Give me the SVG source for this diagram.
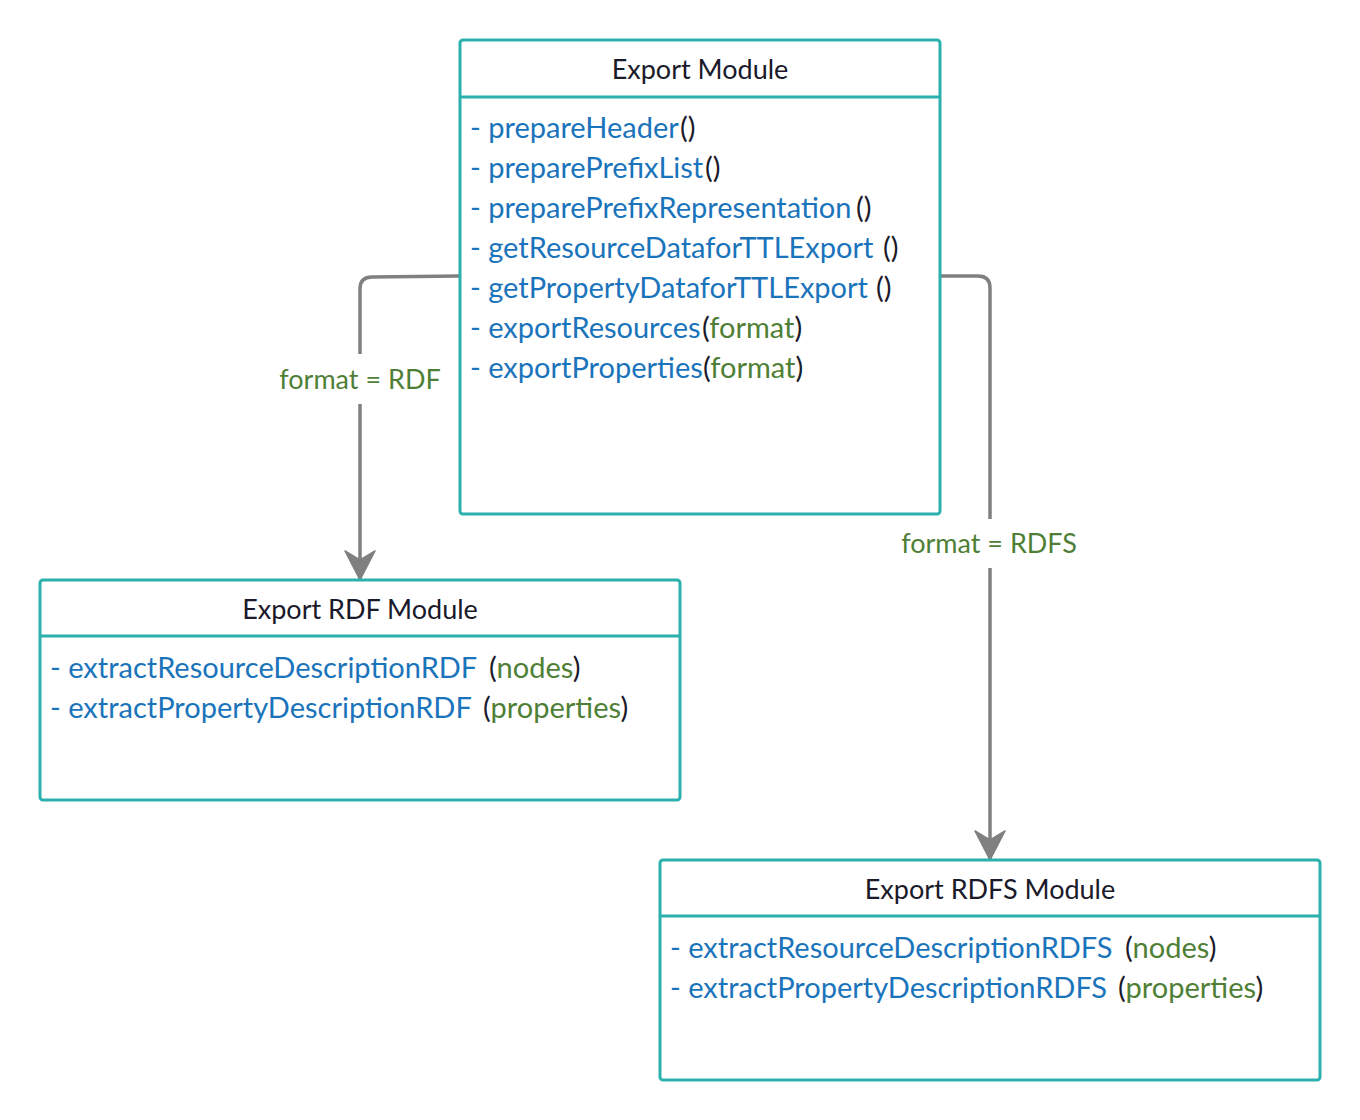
<svg xmlns="http://www.w3.org/2000/svg" width="1360" height="1120" viewBox="0 0 1360 1120">
<style>
.box{fill:#ffffff;stroke:#2ab0ad;stroke-width:3}
.sep{stroke:#2ab0ad;stroke-width:3}
.title{font-family:Lato,"Open Sans",sans-serif;font-size:27px;fill:#1a1a2a;text-anchor:middle}
.m{font-family:Lato,"Open Sans",sans-serif;font-size:29px;fill:#1a1a2a}
.b{fill:#1a74bb}
.g{fill:#4f7f36}
.conn{fill:none;stroke:#808080;stroke-width:3.5}
.lbl{font-family:Lato,"Open Sans",sans-serif;font-size:27px;fill:#4f7f36;text-anchor:middle}
</style>
<defs>
<marker id="arr" markerUnits="userSpaceOnUse" markerWidth="34" markerHeight="34" viewBox="0 0 34 34" refX="30" refY="17" orient="auto">
<path d="M30,17 L1,2 L10,17 L1,32 Z" fill="#808080" stroke="#808080" stroke-width="1.5" stroke-linejoin="round"/>
</marker>
</defs>
<g id="connectors">
<path class="conn" d="M460,276 L372,277 Q360,277 360,289 L360,580" marker-end="url(#arr)"/>
<path class="conn" d="M940,276 L978,276 Q990,276 990,288 L990,860" marker-end="url(#arr)"/>
<rect x="274" y="354" width="172" height="50" fill="#ffffff"/>
<text class="lbl" x="360" y="389">format = RDF</text>
<rect x="896" y="519" width="186" height="49" fill="#ffffff"/>
<text class="lbl" x="989" y="553">format = RDFS</text>
</g>
<g id="export-module">
<rect class="box" x="460" y="40" width="480" height="474" rx="3"/>
<line class="sep" x1="460" y1="97" x2="940" y2="97"/>
<text class="title" x="700" y="79">Export Module</text>
<text class="m" x="470" y="138"><tspan class="b">- prepareHeader</tspan><tspan x="680">()</tspan></text>
<text class="m" x="470" y="178"><tspan class="b">- preparePrefixList</tspan><tspan x="705">()</tspan></text>
<text class="m" x="470" y="218"><tspan class="b">- preparePrefixRepresentation</tspan><tspan x="856">()</tspan></text>
<text class="m" x="470" y="258"><tspan class="b">- getResourceDataforTTLExport</tspan><tspan x="883">()</tspan></text>
<text class="m" x="470" y="298"><tspan class="b">- getPropertyDataforTTLExport</tspan><tspan x="876">()</tspan></text>
<text class="m" x="470" y="338"><tspan class="b">- exportResources</tspan><tspan x="702">(</tspan><tspan class="g">format</tspan>)</text>
<text class="m" x="470" y="378"><tspan class="b">- exportProperties</tspan><tspan x="703">(</tspan><tspan class="g">format</tspan>)</text>
</g>
<g id="export-rdf-module">
<rect class="box" x="40" y="580" width="640" height="220" rx="3"/>
<line class="sep" x1="40" y1="636" x2="680" y2="636"/>
<text class="title" x="360" y="619">Export RDF Module</text>
<text class="m" x="50" y="678"><tspan class="b">- extractResourceDescriptionRDF</tspan><tspan x="489">(</tspan><tspan class="g">nodes</tspan>)</text>
<text class="m" x="50" y="718"><tspan class="b">- extractPropertyDescriptionRDF</tspan><tspan x="483">(</tspan><tspan class="g">properties</tspan>)</text>
</g>
<g id="export-rdfs-module">
<rect class="box" x="660" y="860" width="660" height="220" rx="3"/>
<line class="sep" x1="660" y1="916" x2="1320" y2="916"/>
<text class="title" x="990" y="899">Export RDFS Module</text>
<text class="m" x="670" y="958"><tspan class="b">- extractResourceDescriptionRDFS</tspan><tspan x="1125">(</tspan><tspan class="g">nodes</tspan>)</text>
<text class="m" x="670" y="998"><tspan class="b">- extractPropertyDescriptionRDFS</tspan><tspan x="1118">(</tspan><tspan class="g">properties</tspan>)</text>
</g>
</svg>
